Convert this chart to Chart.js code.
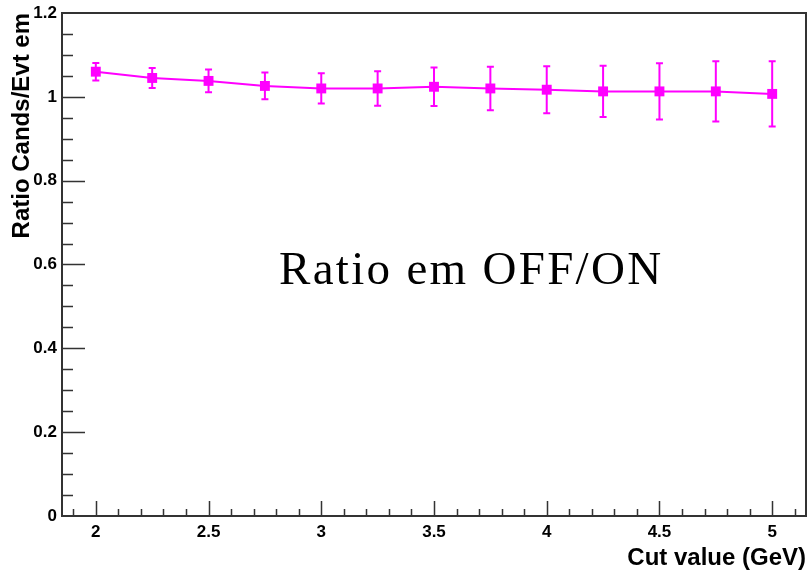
<!DOCTYPE html>
<html>
<head>
<meta charset="utf-8">
<title>Ratio em OFF/ON</title>
<script src="https://cdn.jsdelivr.net/npm/chart.js@4.4.1/dist/chart.umd.min.js"></script>
<style>
    body { margin: 0; background: #fff; }
    #wrap { width: 808px; height: 570px; }
</style>
</head>
<body>
<div id="wrap"><canvas id="ratioChart" width="808" height="570"></canvas></div>
<script>
// values
const cutValues = [2, 2.25, 2.5, 2.75, 3, 3.25, 3.5, 3.75, 4, 4.25, 4.5, 4.75, 5];
const ratioValues = [1.060, 1.045, 1.038, 1.026, 1.020, 1.020, 1.024, 1.020, 1.017, 1.013, 1.013, 1.013, 1.007];
const ratioErrors = [0.021, 0.024, 0.027, 0.032, 0.036, 0.041, 0.046, 0.052, 0.056, 0.061, 0.067, 0.072, 0.078];

const xTickValues = [2, 2.5, 3, 3.5, 4, 4.5, 5];
const yTickValues = [0, 0.2, 0.4, 0.6, 0.8, 1, 1.2];
const xRange = [1.85, 5.15];
const yRange = [0, 1.2];

const xTitle = "Cut value (GeV)";
const yTitle = "Ratio Cands/Evt em";
const plotLabel = "Ratio em OFF/ON";

const magenta = "#ff00ff";
const frameColor = "#333333";

// error bars, drawn under the markers
const errorBarPlugin = {
    id: "errorBars",
    beforeDatasetsDraw(chart) {
        const ctx = chart.ctx;
        const x = chart.scales.x;
        const y = chart.scales.y;
        ctx.save();
        ctx.strokeStyle = magenta;
        ctx.lineWidth = 2;
        cutValues.forEach((v, i) => {
            const px = x.getPixelForValue(v);
            const top = y.getPixelForValue(ratioValues[i] + ratioErrors[i]);
            const bot = y.getPixelForValue(ratioValues[i] - ratioErrors[i]);
            ctx.beginPath();
            ctx.moveTo(px, top);
            ctx.lineTo(px, bot);
            ctx.moveTo(px - 3.5, top);
            ctx.lineTo(px + 3.5, top);
            ctx.moveTo(px - 3.5, bot);
            ctx.lineTo(px + 3.5, bot);
            ctx.stroke();
        });
        ctx.restore();
    }
};

// ROOT style frame with inward ticks, plus the text label
const framePlugin = {
    id: "rootFrame",
    afterDraw(chart) {
        const ctx = chart.ctx;
        const area = chart.chartArea;
        const x = chart.scales.x;
        const y = chart.scales.y;
        ctx.save();
        ctx.strokeStyle = frameColor;
        ctx.lineWidth = 2;
        ctx.strokeRect(area.left, area.top, area.right - area.left, area.bottom - area.top);

        ctx.lineWidth = 1.5;
        ctx.beginPath();
        // x ticks every 0.1, major every 0.5
        for (let k = Math.ceil(xRange[0] * 10); k <= Math.floor(xRange[1] * 10); k++) {
            const px = Math.round(x.getPixelForValue(k / 10)) + 0.5;
            const len = (k % 5 === 0) ? 15 : 7;
            ctx.moveTo(px, area.bottom);
            ctx.lineTo(px, area.bottom - len);
        }
        // y ticks every 0.05, major every 0.2
        for (let k = 1; k < 24; k++) {
            const py = Math.round(y.getPixelForValue(k * 0.05)) + 0.5;
            const len = (k % 4 === 0) ? 23 : 11;
            ctx.moveTo(area.left, py);
            ctx.lineTo(area.left + len, py);
        }
        ctx.stroke();

        ctx.fillStyle = "#000";
        ctx.font = "47px 'Liberation Serif'";
        ctx.textBaseline = "alphabetic";
        ctx.textAlign = "left";
        ctx.letterSpacing = "2.3px";
        ctx.fillText(plotLabel, 279, 284);
        ctx.restore();
    }
};

const ctx = document.getElementById("ratioChart").getContext("2d");
new Chart(ctx, {
    type: "line",
    data: {
        datasets: [{
            data: cutValues.map((v, i) => ({ x: v, y: ratioValues[i] })),
            borderColor: magenta,
            backgroundColor: magenta,
            borderWidth: 2,
            pointStyle: "rect",
            pointRadius: 7,
            pointBorderWidth: 0,
            tension: 0
        }]
    },
    options: {
        responsive: false,
        animation: false,
        layout: { autoPadding: false, padding: { top: 13, right: 2, left: 0, bottom: 0 } },
        plugins: {
            legend: { display: false },
            tooltip: { enabled: false }
        },
        scales: {
            x: {
                type: "linear",
                min: xRange[0],
                max: xRange[1],
                grid: { display: false, drawTicks: false },
                border: { display: false },
                afterBuildTicks: s => { s.ticks = xTickValues.map(v => ({ value: v })); },
                afterFit: s => { s.height = 54; s.paddingLeft = 0; s.paddingRight = 0; },
                ticks: {
                    padding: 6,
                    color: "#000",
                    maxRotation: 0,
                    callback: v => String(v),
                    font: { family: "'Liberation Sans'", weight: "bold", size: 17 }
                },
                title: {
                    display: true,
                    text: xTitle,
                    align: "end",
                    color: "#000",
                    padding: { top: 0, bottom: 0 },
                    font: { family: "'Liberation Sans'", weight: "bold", size: 24, lineHeight: 1 }
                }
            },
            y: {
                type: "linear",
                min: yRange[0],
                max: yRange[1],
                grid: { display: false, drawTicks: false },
                border: { display: false },
                afterBuildTicks: s => { s.ticks = yTickValues.map(v => ({ value: v })); },
                afterFit: s => { s.width = 62; s.paddingTop = 0; s.paddingBottom = 0; },
                ticks: {
                    padding: 5,
                    color: "#000",
                    callback: v => String(v),
                    font: { family: "'Liberation Sans'", weight: "bold", size: 17 }
                },
                title: {
                    display: true,
                    text: yTitle,
                    align: "end",
                    color: "#000",
                    padding: { top: 8, bottom: 0 },
                    font: { family: "'Liberation Sans'", weight: "bold", size: 24 }
                }
            }
        }
    },
    plugins: [errorBarPlugin, framePlugin]
});
</script>
</body>
</html>
